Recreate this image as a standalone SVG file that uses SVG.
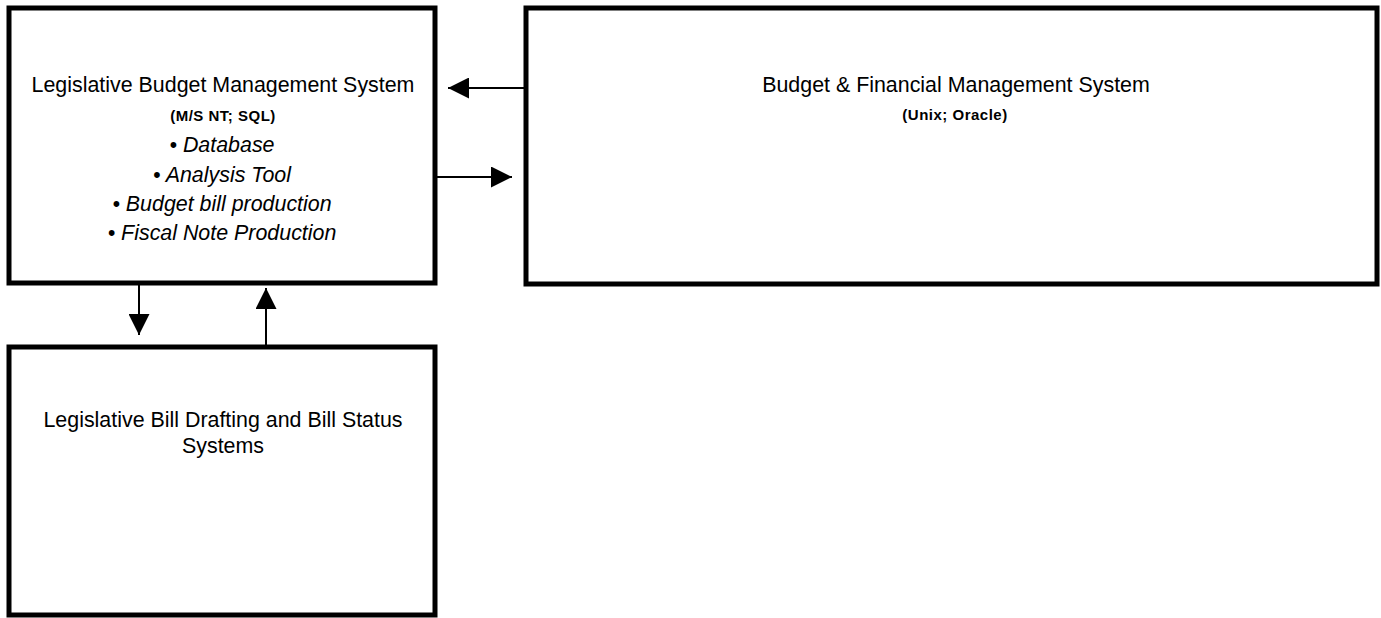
<svg xmlns="http://www.w3.org/2000/svg" width="1381" height="618" viewBox="0 0 1381 618">
  <style>
    .box { fill: #ffffff; stroke: #000000; stroke-width: 5; }
    .conn { stroke: #000000; stroke-width: 2; fill: none; marker-end: url(#arrow); }
    .title { font-family: "Liberation Sans", Arial, Helvetica, sans-serif; font-size: 21.4px; fill: #000000; text-anchor: middle; }
    .sub { font-family: "Liberation Sans", Arial, Helvetica, sans-serif; font-size: 15px; font-weight: bold; letter-spacing: 0.5px; fill: #000000; text-anchor: middle; }
    .item { font-family: "Liberation Sans", Arial, Helvetica, sans-serif; font-size: 21.4px; font-style: italic; fill: #000000; text-anchor: middle; }
  </style>
  <defs>
    <marker id="arrow" markerUnits="userSpaceOnUse" markerWidth="21" markerHeight="21" viewBox="0 0 21 21" refX="21" refY="10.5" orient="auto">
      <path d="M0,0 L21,10.5 L0,21 Z" fill="#000000"/>
    </marker>
  </defs>
  <rect x="0" y="0" width="1381" height="618" fill="#ffffff"/>

  <g id="node-lbms">
    <rect class="box" x="9" y="8" width="426" height="275"/>
    <text class="title" x="223" y="92">Legislative Budget Management System</text>
    <text class="sub" x="223" y="121">(M/S NT; SQL)</text>
    <text class="item" x="222" y="152">• Database</text>
    <text class="item" x="222" y="182">• Analysis Tool</text>
    <text class="item" x="222" y="211">• Budget bill production</text>
    <text class="item" x="222" y="240">• Fiscal Note Production</text>
  </g>

  <g id="node-bfms">
    <rect class="box" x="526" y="8" width="851" height="276"/>
    <text class="title" x="956" y="92">Budget &amp; Financial Management System</text>
    <text class="sub" x="955" y="120">(Unix; Oracle)</text>
  </g>

  <g id="node-lbd">
    <rect class="box" x="9" y="347" width="426" height="268"/>
    <text class="title" x="223" y="427">Legislative Bill Drafting and Bill Status</text>
    <text class="title" x="223" y="453">Systems</text>
  </g>

  <g id="connectors">
    <line class="conn" x1="524" y1="88" x2="448" y2="88"/>
    <line class="conn" x1="437" y1="177" x2="512" y2="177"/>
    <line class="conn" x1="139" y1="285" x2="139" y2="335"/>
    <line class="conn" x1="266" y1="345" x2="266" y2="288"/>
  </g>
</svg>
